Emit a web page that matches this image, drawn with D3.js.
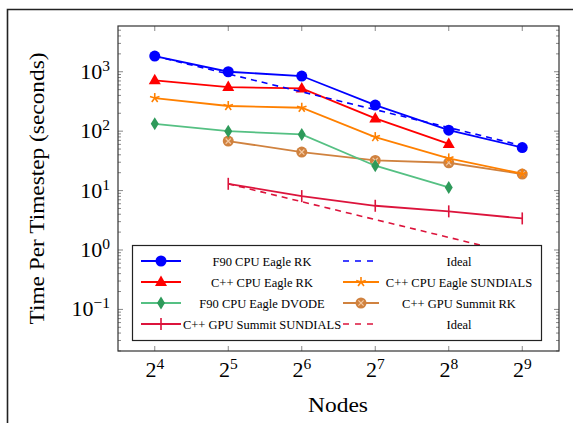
<!DOCTYPE html>
<html>
<head>
<meta charset="utf-8">
<script src="https://cdn.jsdelivr.net/npm/d3@7"></script>
<style>
  body { margin: 0; background: #fff; }
  svg { display: block; font-family: "Liberation Serif", "Times New Roman", serif; }
</style>
</head>
<body>
<div id="chart"></div>
<script>
// Node counts (x) and timings (seconds)
var nodes = [16, 32, 64, 128, 256, 512];

var f90RK      = [1837, 1000, 847, 275, 104, 53];
var idealCPU   = [1837, 918, 459, 230, 115, 57];
var cppRK      = [716, 552, 525, 164, 61];
var cppSund    = [361, 265, 248, 79.5, 34.8, 19.2];
var f90Dvode   = [133, 100, 88, 26.2, 11.3];
var gpuRKNodes = [32, 64, 128, 256, 512];
var gpuRK      = [68, 44.5, 32.2, 29.4, 19];
var gpuSund    = [13, 8.07, 5.55, 4.47, 3.4];
var idealGPU   = [13, 6.5, 3.25, 1.63, 0.81];

var yTicks = [-1, 0, 1, 2, 3];
var xTicks = [4, 5, 6, 7, 8, 9];

var W = 573, H = 423;
var plot = {left: 118, top: 26, right: 559, bottom: 351};

var svg = d3.select("#chart").append("svg")
    .attr("width", W)
    .attr("height", H);

// outer frame (only top and left are visible in the picture)
svg.append("path")
    .attr("d", "M7.5," + H + "V9.5H" + W)
    .attr("fill", "none")
    .attr("stroke", "#222")
    .attr("stroke-width", 1.6);

var x = d3.scaleLog().base(2)
    .domain([Math.pow(2, 3.5), Math.pow(2, 9.5)])
    .range([plot.left, plot.right]);

var y = d3.scaleLog()
    .domain([Math.pow(10, -1.7), Math.pow(10, 3.77)])
    .range([plot.bottom, plot.top]);

// clip for data
svg.append("clipPath").attr("id", "clip")
  .append("rect")
    .attr("x", plot.left).attr("y", plot.top)
    .attr("width", plot.right - plot.left)
    .attr("height", plot.bottom - plot.top);

// ticks
var tickCol = "#888";
var ticks = svg.append("g");
xTicks.forEach(function(e) {
  var px = x(Math.pow(2, e));
  ticks.append("line").attr("x1", px).attr("x2", px)
      .attr("y1", plot.bottom).attr("y2", plot.bottom - 5)
      .attr("stroke", tickCol);
  ticks.append("line").attr("x1", px).attr("x2", px)
      .attr("y1", plot.top).attr("y2", plot.top + 5)
      .attr("stroke", tickCol);
});
var yAll = [];
for (var e = -2; e <= 3; e++) {
  for (var m = 1; m <= 9; m++) {
    var v = m * Math.pow(10, e);
    if (v >= y.domain()[0] && v <= y.domain()[1]) yAll.push({v: v, major: m === 1});
  }
}
yAll.forEach(function(t) {
  var py = y(t.v), len = t.major ? 5 : 3;
  ticks.append("line").attr("x1", plot.left).attr("x2", plot.left + len)
      .attr("y1", py).attr("y2", py).attr("stroke", tickCol);
  ticks.append("line").attr("x1", plot.right).attr("x2", plot.right - len)
      .attr("y1", py).attr("y2", py).attr("stroke", tickCol);
});

// tick labels
xTicks.forEach(function(e) {
  var t = svg.append("text")
      .attr("x", x(Math.pow(2, e)))
      .attr("y", 377)
      .attr("text-anchor", "middle")
      .attr("font-size", 22);
  t.append("tspan").text("2");
  t.append("tspan").attr("dy", -8).attr("font-size", 15.5).text(e);
});
yTicks.forEach(function(e) {
  var t = svg.append("text")
      .attr("x", 110)
      .attr("y", y(Math.pow(10, e)) + 7)
      .attr("text-anchor", "end")
      .attr("font-size", 22);
  t.append("tspan").text("10");
  t.append("tspan").attr("dy", -8).attr("font-size", 15.5).text(e < 0 ? "\u2212" + (-e) : e);
});

// axis titles
svg.append("text")
    .attr("transform", "translate(44," + ((plot.top + plot.bottom) / 2) + ") rotate(-90)")
    .attr("text-anchor", "middle")
    .attr("font-size", 22)
    .attr("textLength", 272)
    .attr("lengthAdjust", "spacingAndGlyphs")
    .text("Time Per Timestep (seconds)");
svg.append("text")
    .attr("x", 338)
    .attr("y", 412)
    .attr("text-anchor", "middle")
    .attr("font-size", 22)
    .attr("textLength", 60)
    .attr("lengthAdjust", "spacingAndGlyphs")
    .text("Nodes");

// markers
function drawMarker(g, kind, col, cx, cy) {
  if (kind === "circle") {
    g.append("circle").attr("cx", cx).attr("cy", cy).attr("r", 5.5).attr("fill", col);
  } else if (kind === "triangle") {
    g.append("path").attr("d", "M" + cx + "," + (cy - 6.5) + "L" + (cx + 6) + "," + (cy + 4) + "L" + (cx - 6) + "," + (cy + 4) + "Z")
        .attr("fill", col);
  } else if (kind === "star") {
    for (var k = 0; k < 5; k++) {
      var a = -Math.PI / 2 + k * 2 * Math.PI / 5;
      g.append("line").attr("x1", cx).attr("y1", cy)
          .attr("x2", cx + 5 * Math.cos(a)).attr("y2", cy + 5 * Math.sin(a))
          .attr("stroke", col).attr("stroke-width", 1.6);
    }
  } else if (kind === "diamond") {
    g.append("path").attr("d", "M" + cx + "," + (cy - 6.5) + "L" + (cx + 4) + "," + cy + "L" + cx + "," + (cy + 6.5) + "L" + (cx - 4) + "," + cy + "Z")
        .attr("fill", "#2e9a5a");
  } else if (kind === "otimes") {
    g.append("circle").attr("cx", cx).attr("cy", cy).attr("r", 5.5).attr("fill", col);
    var d = 2.6;
    g.append("path").attr("d", "M" + (cx - d) + "," + (cy - d) + "L" + (cx + d) + "," + (cy + d) + "M" + (cx + d) + "," + (cy - d) + "L" + (cx - d) + "," + (cy + d))
        .attr("stroke", "#f3c9a3").attr("stroke-width", 1.2);
  } else if (kind === "bar") {
    g.append("line").attr("x1", cx).attr("x2", cx).attr("y1", cy - 6).attr("y2", cy + 6)
        .attr("stroke", col).attr("stroke-width", 1.6);
  }
}

var series = [
  {name: "F90 CPU Eagle RK", xs: nodes, ys: f90RK, col: "#0000ff", mark: "circle"},
  {name: "Ideal", xs: nodes, ys: idealCPU, col: "#0000ff", mark: null, dash: true},
  {name: "C++ CPU Eagle RK", xs: nodes, ys: cppRK, col: "#ff0000", mark: "triangle"},
  {name: "C++ CPU Eagle SUNDIALS", xs: nodes, ys: cppSund, col: "#ff8000", mark: "star"},
  {name: "F90 CPU Eagle DVODE", xs: nodes, ys: f90Dvode, col: "#55c083", mark: "diamond"},
  {name: "C++ GPU Summit RK", xs: gpuRKNodes, ys: gpuRK, col: "#d0823f", mark: "otimes"},
  {name: "C++ GPU Summit SUNDIALS", xs: gpuRKNodes, ys: gpuSund, col: "#dc143c", mark: "bar"},
  {name: "Ideal", xs: gpuRKNodes, ys: idealGPU, col: "#dc143c", mark: null, dash: true}
];

var line = d3.line()
    .x(function(d) { return x(d[0]); })
    .y(function(d) { return y(d[1]); });

var dataG = svg.append("g").attr("clip-path", "url(#clip)");
// draw from last to first so blue sits on top
series.slice().reverse().forEach(function(s) {
  var pts = s.ys.map(function(v, i) { return [s.xs[i], v]; });
  dataG.append("path")
      .attr("d", line(pts))
      .attr("fill", "none")
      .attr("stroke", s.col)
      .attr("stroke-width", s.dash ? 1.6 : 1.8)
      .attr("stroke-dasharray", s.dash ? "6,5" : null);
  if (s.mark) {
    var mg = dataG.append("g");
    pts.forEach(function(p) { drawMarker(mg, s.mark, s.col, x(p[0]), y(p[1])); });
  }
});

// legend
var lg = svg.append("g");
lg.append("rect")
    .attr("x", 132.5).attr("y", 245.5)
    .attr("width", 409).attr("height", 95)
    .attr("fill", "#fff")
    .attr("stroke", "#222")
    .attr("stroke-width", 1.2);
var rowY = [261, 282, 303, 324];
var colLine = [[141, 181], [343, 379]];
var colText = [262, 459];
series.forEach(function(s, i) {
  var c = i % 2, r = Math.floor(i / 2);
  var yy = rowY[r];
  lg.append("line")
      .attr("x1", colLine[c][0]).attr("x2", colLine[c][1])
      .attr("y1", yy).attr("y2", yy)
      .attr("stroke", s.col)
      .attr("stroke-width", s.dash ? 1.6 : 1.8)
      .attr("stroke-dasharray", s.dash ? "6,6" : null);
  if (s.mark) drawMarker(lg, s.mark, s.col, (colLine[c][0] + colLine[c][1]) / 2, yy);
  lg.append("text")
      .attr("x", colText[c])
      .attr("y", yy + 4.5)
      .attr("text-anchor", "middle")
      .attr("font-size", 12.5)
      .text(s.name);
});

// plot frame on top
svg.append("rect")
    .attr("x", plot.left).attr("y", plot.top)
    .attr("width", plot.right - plot.left)
    .attr("height", plot.bottom - plot.top)
    .attr("fill", "none")
    .attr("stroke", "#333")
    .attr("stroke-width", 1.2);
</script>
</body>
</html>
